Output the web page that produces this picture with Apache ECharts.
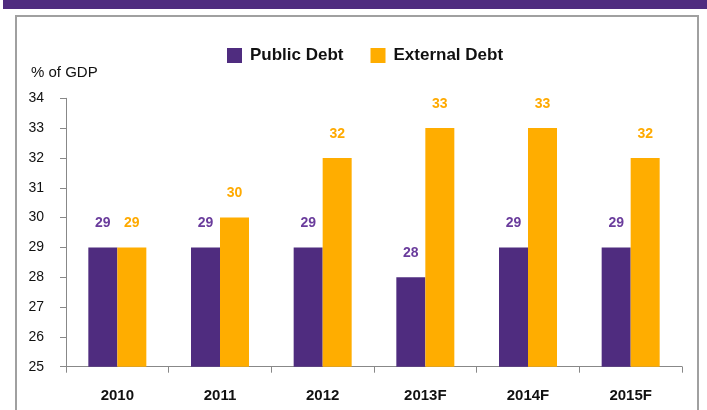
<!DOCTYPE html>
<html>
<head>
<meta charset="utf-8">
<script src="https://cdn.jsdelivr.net/npm/echarts@6/dist/echarts.min.js"></script>
<style>
html,body{margin:0;padding:0;background:#fff;}
#c{width:707px;height:410px;}
</style>
</head>
<body>
<div id="c"></div>
<script>
var categories = ['2010', '2011', '2012', '2013F', '2014F', '2015F'];
var publicDebt = [29, 29, 29, 28, 29, 29];
var externalDebt = [29, 30, 32, 33, 33, 32];
var yMin = 25, yMax = 34, yStep = 1;
var unitLabel = '% of GDP';

var FONT = 'Arial, "Liberation Sans", sans-serif';
var PURPLE = '#4F2C7F';
var ORANGE = '#FFAD00';

var chart = echarts.init(document.getElementById('c'));
chart.setOption({
  animation: false,
  backgroundColor: '#fff',
  graphic: [
    { type: 'rect', shape: { x: 3, y: 0, width: 704, height: 9 }, style: { fill: PURPLE } },
    { type: 'rect', shape: { x: 16, y: 16, width: 682, height: 420 }, style: { fill: 'none', stroke: '#a0a0a0', lineWidth: 2 } },
    { type: 'text', x: 31, y: 65, style: { text: unitLabel, font: '15px ' + FONT, fill: '#111' } }
  ],
  legend: {
    left: 222,
    top: 42,
    itemWidth: 15,
    itemHeight: 15,
    itemGap: 27,
    icon: 'rect',
    textStyle: { fontFamily: FONT, fontSize: 17, fontWeight: 'bold', color: '#111', padding: [0, 0, 0, 3] },
    data: ['Public Debt', 'External Debt']
  },
  grid: { left: 66, right: 25, top: 98.3, bottom: 43.3, containLabel: false },
  xAxis: {
    type: 'category',
    data: categories,
    axisLine: { lineStyle: { color: '#888', width: 1 } },
    axisTick: { show: true, length: 6, lineStyle: { color: '#888' } },
    axisLabel: { margin: 22, fontFamily: FONT, fontSize: 15, fontWeight: 'bold', color: '#111' }
  },
  yAxis: {
    type: 'value',
    min: yMin,
    max: yMax,
    interval: yStep,
    axisLine: { show: true, lineStyle: { color: '#888', width: 1 } },
    axisTick: { show: true, length: 6, lineStyle: { color: '#888' } },
    splitLine: { show: false },
    axisLabel: { margin: 22, fontFamily: FONT, fontSize: 14, color: '#111' }
  },
  series: [
    {
      name: 'Public Debt',
      type: 'bar',
      data: publicDebt,
      barWidth: 29,
      barGap: '0%',
      itemStyle: { color: PURPLE },
      label: { show: true, position: 'top', distance: 17, fontFamily: FONT, fontSize: 14, fontWeight: 'bold', color: '#6A3C9C' }
    },
    {
      name: 'External Debt',
      type: 'bar',
      data: externalDebt,
      barWidth: 29,
      barGap: '0%',
      itemStyle: { color: ORANGE },
      label: { show: true, position: 'top', distance: 17, fontFamily: FONT, fontSize: 14, fontWeight: 'bold', color: '#FFAA00' }
    }
  ]
});
</script>
</body>
</html>
